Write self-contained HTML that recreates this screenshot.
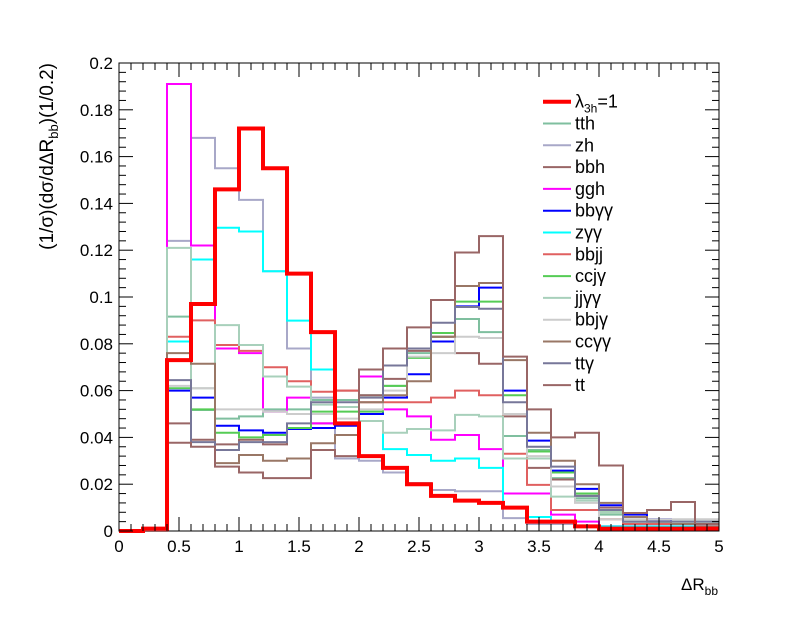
<!DOCTYPE html>
<html><head><meta charset="utf-8"><style>
body{margin:0;background:#fff}
svg{display:block;font-family:"Liberation Sans",sans-serif}
</style></head><body>
<svg id="c" width="798" height="625"></svg>
<script>
const binEdges=[0,0.2,0.4,0.6,0.8,1.0,1.2,1.4,1.6,1.8,2.0,2.2,2.4,2.6,2.8,3.0,3.2,3.4,3.6,3.8,4.0,4.2,4.4,4.6,4.8,5.0];
const seriesNames=["λ3h=1","tth","zh","bbh","ggh","bbγγ","zγγ","bbjj","ccjγ","jjγγ","bbjγ","ccγγ","ttγ","tt"];
const lam=[0,0.001,0.073,0.097,0.146,0.172,0.155,0.110,0.085,0.046,0.032,0.027,0.020,0.015,0.013,0.012,0.010,0.004,0.004,0.002,0.001,0.001,0.001,0.001,0.001];
const tth=[0,0,0.0916,0.0517,0.048,0.049,0.052,0.052,0.056,0.056,0.058,0.062,0.076,0.083,0.0906,0.085,0.0406,0.0346,0.0226,0.014,0.007,0.004,0.004,0.003,0.003];
const zh=[0,0,0.124,0.168,0.155,0.1415,0.111,0.078,0.057,0.031,0.030,0.025,0.0205,0.0175,0.017,0.017,0.0055,0.003,0.003,0.002,0.002,0.001,0.001,0.001,0.001];
const bbh=[0,0,0.046,0.039,0.037,0.039,0.037,0.044,0.046,0.060,0.058,0.065,0.077,0.083,0.076,0.0715,0.049,0.027,0.022,0.015,0.010,0.006,0.004,0.003,0.002];
const ggh=[0,0,0.191,0.122,0.078,0.076,0.051,0.057,0.046,0.046,0.066,0.052,0.049,0.039,0.041,0.035,0.016,0.016,0.007,0.004,0.002,0.002,0.002,0.002,0.002];
const bbyy=[0,0,0.060,0.057,0.045,0.043,0.042,0.0436,0.044,0.045,0.050,0.057,0.067,0.081,0.096,0.104,0.060,0.0386,0.0258,0.018,0.011,0.007,0.005,0.003,0.003];
const zyy=[0,0,0.081,0.116,0.1296,0.128,0.111,0.0899,0.069,0.053,0.047,0.035,0.0325,0.030,0.031,0.027,0.010,0.006,0.004,0.002,0.002,0.002,0.002,0.002,0.002];
const bbjj=[0,0,0.083,0.090,0.0795,0.077,0.070,0.064,0.0595,0.060,0.055,0.055,0.055,0.057,0.060,0.058,0.033,0.0197,0.009,0.009,0.005,0.003,0.003,0.003,0.003];
const ccjy=[0,0,0.061,0.052,0.042,0.040,0.041,0.044,0.051,0.051,0.051,0.062,0.074,0.0846,0.098,0.098,0.058,0.034,0.025,0.016,0.008,0.004,0.004,0.004,0.004];
const jjyy=[0,0,0.121,0.061,0.088,0.0795,0.066,0.0617,0.054,0.053,0.047,0.042,0.0436,0.043,0.0496,0.049,0.031,0.031,0.0147,0.013,0.008,0.004,0.004,0.004,0.004];
const bbjy=[0,0,0.062,0.061,0.052,0.052,0.051,0.050,0.050,0.048,0.052,0.060,0.0745,0.076,0.083,0.0825,0.050,0.032,0.019,0.012,0.005,0.005,0.005,0.005,0.005];
const ccyy=[0,0,0.076,0.0715,0.029,0.0325,0.030,0.031,0.0375,0.041,0.055,0.058,0.064,0.083,0.1047,0.106,0.073,0.042,0.030,0.020,0.012,0.006,0.004,0.003,0.002];
const tty=[0,0,0.0645,0.038,0.0346,0.038,0.038,0.046,0.055,0.055,0.057,0.0707,0.078,0.089,0.0957,0.095,0.055,0.036,0.0275,0.015,0.009,0.004,0.004,0.004,0.004];
const tt=[0,0,0.0377,0.036,0.0275,0.025,0.0226,0.0226,0.0346,0.032,0.069,0.078,0.087,0.0987,0.119,0.126,0.0745,0.052,0.040,0.042,0.028,0.0077,0.009,0.0124,0.003];
const yTicks=[0,0.02,0.04,0.06,0.08,0.1,0.12,0.14,0.16,0.18,0.2];
const yTickLabels=["0","0.02","0.04","0.06","0.08","0.1","0.12","0.14","0.16","0.18","0.2"];
const xTicks=[0,0.5,1,1.5,2,2.5,3,3.5,4,4.5,5];
const xTickLabels=["0","0.5","1","1.5","2","2.5","3","3.5","4","4.5","5"];

const NS="http://www.w3.org/2000/svg";
const svg=document.getElementById('c');
const X0=119,X1=719,Y0=531,Y1=63;
const xs=v=>X0+(v-0)/(5-0)*(X1-X0);
const ys=v=>Y0-(v-0)/(0.2-0)*(Y0-Y1);
function mk(tag,attrs,parent){const e=document.createElementNS(NS,tag);for(const k in attrs)e.setAttribute(k,attrs[k]);(parent||svg).appendChild(e);return e;}

const series=[
 [tth,"#7fbf9f",2],[zh,"#a8a8c8",2],[bbh,"#996666",2],[ggh,"#ff00ff",2],[bbyy,"#0000ff",2],
 [zyy,"#00ffff",2],[bbjj,"#e06060",2],[ccjy,"#55cc55",2],[jjyy,"#a8d0bb",2],[bbjy,"#cccccc",2],
 [ccyy,"#997766",2],[tty,"#777799",2],[tt,"#996666",2]];
const allSeries=[[lam,"#ff0000",4]].concat(series);

const frame=mk('rect',{x:X0,y:Y1,width:X1-X0,height:Y0-Y1,fill:'none',stroke:'#000','stroke-width':1});



function drawHist(vals,color,w,name){
  let d='M'+xs(binEdges[0])+','+ys(vals[0]);
  for(let i=0;i<vals.length;i++){
    if(i>0)d+=' L'+xs(binEdges[i])+','+ys(vals[i]);
    d+=' L'+xs(binEdges[i+1])+','+ys(vals[i]);
  }
  const p=mk('path',{d:d,fill:'none',stroke:color,'stroke-width':w});
  
  
}
series.forEach((s,i)=>drawHist(s[0],s[1],s[2],'hist-'+seriesNames[i+1]));
drawHist(lam,"#ff0000",4,'hist-lambda');

yTicks.forEach((v,i)=>{
  const y=ys(v);
  mk('line',{x1:X0,x2:X0+14,y1:y,y2:y,stroke:'#000'});
  mk('line',{x1:X1,x2:X1-14,y1:y,y2:y,stroke:'#000'});
  if(i<yTicks.length-1)for(let k=1;k<5;k++){const yy=ys(v+k*0.004);
    mk('line',{x1:X0,x2:X0+7,y1:yy,y2:yy,stroke:'#000'});
    mk('line',{x1:X1,x2:X1-7,y1:yy,y2:yy,stroke:'#000'});}
  const t=mk('text',{x:X0-6,y:y+6,'text-anchor':'end','font-size':17});
  t.textContent=yTickLabels[i];
  
  
});
xTicks.forEach((v,i)=>{
  const x=xs(v);
  mk('line',{x1:x,x2:x,y1:Y0,y2:Y0-14,stroke:'#000'});
  mk('line',{x1:x,x2:x,y1:Y1,y2:Y1+14,stroke:'#000'});
  if(i<xTicks.length-1)for(let k=1;k<5;k++){const xx=xs(v+k*0.1);
    mk('line',{x1:xx,x2:xx,y1:Y0,y2:Y0-7,stroke:'#000'});
    mk('line',{x1:xx,x2:xx,y1:Y1,y2:Y1+7,stroke:'#000'});}
  const t=mk('text',{x:x,y:Y0+21,'text-anchor':'middle','font-size':17});
  t.textContent=xTickLabels[i];
  
  
});

const xt=mk('text',{x:718,y:590,'text-anchor':'end','font-size':17});
xt.innerHTML='ΔR<tspan font-size="12" dy="5">bb</tspan>';


const yt=mk('text',{transform:'translate(53,63) rotate(-90)','text-anchor':'end','font-size':19});
yt.innerHTML='(1/σ)(dσ/dΔR<tspan font-size="13" dy="5">bb</tspan><tspan dy="-5">)(1/0.2)</tspan>';



const lg=mk('g',{});


allSeries.forEach((s,i)=>{
  const y=101.7+i*21.8;
  const g=mk('g',{},lg);
  
  
  mk('line',{x1:543,x2:571,y1:y,y2:y,stroke:s[1],'stroke-width':s[2]},g);
  const t=mk('text',{x:575,y:y+6,'font-size':18},g);
  if(i===0)t.innerHTML='λ<tspan font-size="12" dy="5">3h</tspan><tspan dy="-5">=1</tspan>';
  else t.textContent=seriesNames[i];
});
</script>
</body></html>
